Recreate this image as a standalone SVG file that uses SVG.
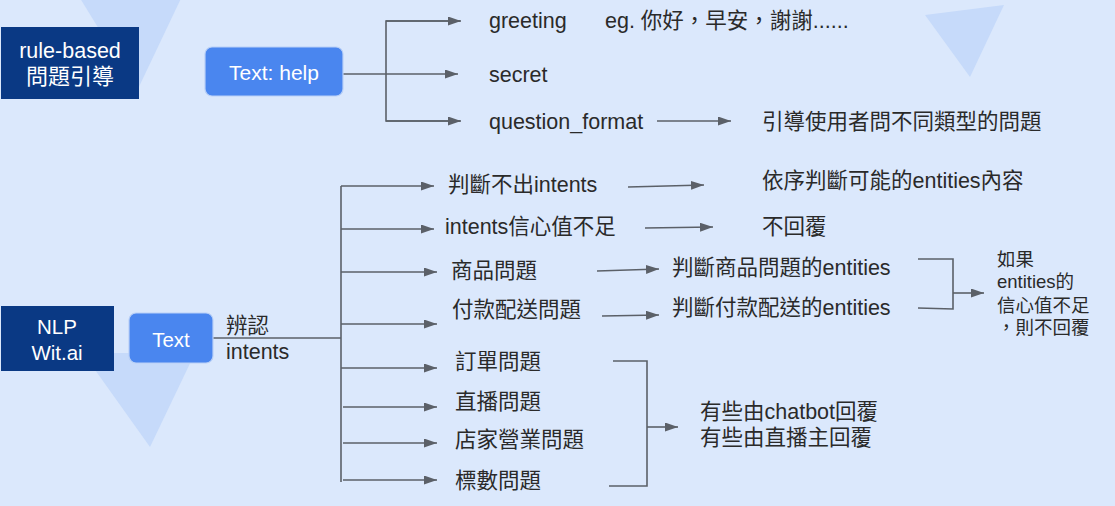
<svg xmlns="http://www.w3.org/2000/svg" width="1115" height="506" viewBox="0 0 1115 506">
<style>
  .bg { fill: #dbe8fc; }
  .tri { fill: #c6dafa; }
  .dark { fill: #0a3984; }
  .blue { fill: #4a86ef; stroke: #b9d0f7; stroke-width: 1.2; }
  .wt { fill: #ffffff; font-family: "Liberation Sans", "Noto Sans CJK TC", sans-serif; }
  .t { fill: #2a2a2a; font-family: "Liberation Sans", "Noto Sans CJK TC", sans-serif; font-size: 21.5px; }
  .s { font-size: 18.5px; }
  .ln { fill: none; stroke: #5b6068; stroke-width: 1.6; }
  .ar { fill: none; stroke: #5b6068; stroke-width: 1.6; marker-end: url(#ah); }
</style>
<defs>
  <marker id="ah" markerUnits="userSpaceOnUse" markerWidth="14" markerHeight="10" refX="13" refY="4.5" orient="auto">
    <path d="M0,0 L13,4.5 L0,9 z" fill="#5b6068"/>
  </marker>
</defs>
<rect class="bg" x="0" y="0" width="1115" height="506"/>
<g id="background">
  <polygon class="tri" points="75,-10 185,-10 137,91"/>
  <polygon class="tri" points="925,15 1004,5 970,77"/>
  <polygon class="tri" points="83,353 195,353 150,447"/>
</g>

<g id="connectors">
  <!-- top section -->
  <line class="ar" x1="343" y1="74" x2="458" y2="74"/>
  <polyline class="ln" points="460,21 386,21 386,121 460,121"/>
  <line class="ar" x1="386" y1="21" x2="461" y2="21"/>
  <line class="ar" x1="386" y1="121" x2="461" y2="121"/>
  <line class="ar" x1="657" y1="121" x2="731" y2="121"/>

  <!-- NLP section -->
  <line class="ln" x1="213" y1="338" x2="341" y2="338"/>
  <line class="ln" x1="341" y1="186" x2="341" y2="482"/>
  <line class="ar" x1="341" y1="186" x2="434" y2="186"/>
  <line class="ar" x1="341" y1="229" x2="434" y2="229"/>
  <line class="ar" x1="341" y1="272" x2="437" y2="272"/>
  <line class="ar" x1="341" y1="324" x2="437" y2="324"/>
  <line class="ar" x1="341" y1="368" x2="437" y2="368"/>
  <line class="ar" x1="343" y1="407" x2="437" y2="407"/>
  <line class="ar" x1="343" y1="443" x2="437" y2="443"/>
  <line class="ar" x1="343" y1="480" x2="437" y2="480"/>

  <line class="ar" x1="628" y1="187" x2="704" y2="185"/>
  <line class="ar" x1="645" y1="228" x2="713" y2="227"/>
  <line class="ar" x1="597" y1="271" x2="659" y2="269"/>
  <line class="ar" x1="602" y1="316" x2="659" y2="315"/>

  <polyline class="ln" points="918,259 953,259 953,309 918,308"/>
  <line class="ar" x1="953" y1="293" x2="984" y2="293"/>

  <polyline class="ln" points="613,361 647,361 647,486 609,486"/>
  <line class="ar" x1="647" y1="427" x2="678" y2="427"/>
</g>

<g id="node-rule-based">
  <rect class="dark" x="1" y="27" width="138" height="72"/>
  <text class="wt" x="70" y="58" font-size="21.5" text-anchor="middle">rule-based</text>
  <text class="wt" x="70" y="84" font-size="22" text-anchor="middle">問題引導</text>
</g>
<g id="node-text-help">
  <rect class="blue" x="205" y="47" width="138" height="49" rx="7"/>
  <text class="wt" x="274" y="80" font-size="21" text-anchor="middle">Text: help</text>
</g>
<g id="node-nlp">
  <rect class="dark" x="1" y="306" width="113" height="65"/>
  <text class="wt" x="57" y="334" font-size="20.5" text-anchor="middle">NLP</text>
  <text class="wt" x="57" y="360" font-size="20.5" text-anchor="middle">Wit.ai</text>
</g>
<g id="node-text">
  <rect class="blue" x="129" y="313" width="84" height="50" rx="7"/>
  <text class="wt" x="171" y="347" font-size="20.5" text-anchor="middle">Text</text>
</g>

<g id="labels-top">
  <text class="t" x="489" y="28">greeting</text>
  <text class="t" x="605" y="28">eg. 你好，早安，謝謝......</text>
  <text class="t" x="489" y="82">secret</text>
  <text class="t" x="489" y="129">question_format</text>
  <text class="t" x="762" y="129">引導使用者問不同類型的問題</text>
</g>

<g id="labels-nlp">
  <text class="t" x="226" y="333">辨認</text>
  <text class="t" x="226" y="359">intents</text>

  <text class="t" x="448" y="192">判斷不出intents</text>
  <text class="t" x="445" y="234">intents信心值不足</text>
  <text class="t" x="451" y="278">商品問題</text>
  <text class="t" x="452" y="317">付款配送問題</text>
  <text class="t" x="455" y="369">訂單問題</text>
  <text class="t" x="455" y="409">直播問題</text>
  <text class="t" x="455" y="447">店家營業問題</text>
  <text class="t" x="455" y="488">標數問題</text>

  <text class="t" x="762" y="188">依序判斷可能的entities內容</text>
  <text class="t" x="762" y="234">不回覆</text>
  <text class="t" x="672" y="275">判斷商品問題的entities</text>
  <text class="t" x="672" y="315">判斷付款配送的entities</text>

  <text class="t s" x="997" y="266">如果</text>
  <text class="t s" x="997" y="288">entities的</text>
  <text class="t s" x="997" y="312">信心值不足</text>
  <text class="t s" x="997" y="334">，則不回覆</text>

  <text class="t" x="700" y="419">有些由chatbot回覆</text>
  <text class="t" x="700" y="445">有些由直播主回覆</text>
</g>
</svg>
